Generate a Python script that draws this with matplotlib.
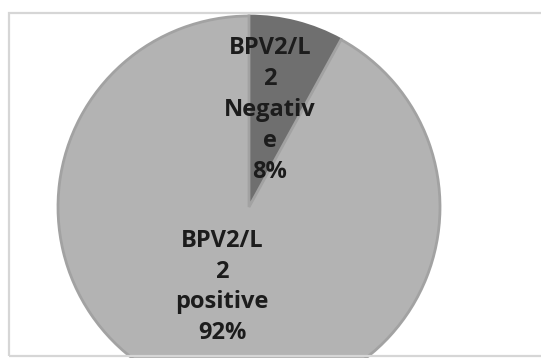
import matplotlib.pyplot as plt
from matplotlib.patches import Rectangle

# data
labels = ['BPV2/L\n2\nNegativ\ne', 'BPV2/L\n2\npositive']
values = [8, 92]
colors = ['#6f6f6f', '#b3b3b3']

W, H = 541, 358
fig = plt.figure(figsize=(W / 100, H / 100), dpi=100)
ax = fig.add_axes([0, 0, 1, 1])

cx, cy, r = 249, H - 207, 191
texts = [f'{n}\n{v}%' for n, v in zip(labels, values)]
wedges, lbls = ax.pie(values, labels=texts, colors=colors, startangle=90,
                      counterclock=False, center=(cx, cy), radius=r,
                      labeldistance=0.5, frame=True,
                      wedgeprops=dict(edgecolor='#a2a2a2', linewidth=2),
                      textprops=dict(fontsize=17, fontweight='bold', color='#1c1c1c',
                                     family='Open Sans', linespacing=1.38))
ax.set_xlim(0, W)
ax.set_ylim(0, H)
ax.set_aspect('equal')
ax.axis('off')

# chart frame (light gray border)
ax.add_patch(Rectangle((8.5, 2), W, H - 14.5, fill=False, edgecolor='#d6d6d6', lw=1.6))

for t in lbls:
    t.set_ha('center')
    t.set_va('center')
wedges[0].set_edgecolor('#6f6f6f')
lbls[0].set_position((270, H - 110))
lbls[1].set_position((222, H - 287))

fig.savefig('out.png', dpi=100, facecolor='white')
